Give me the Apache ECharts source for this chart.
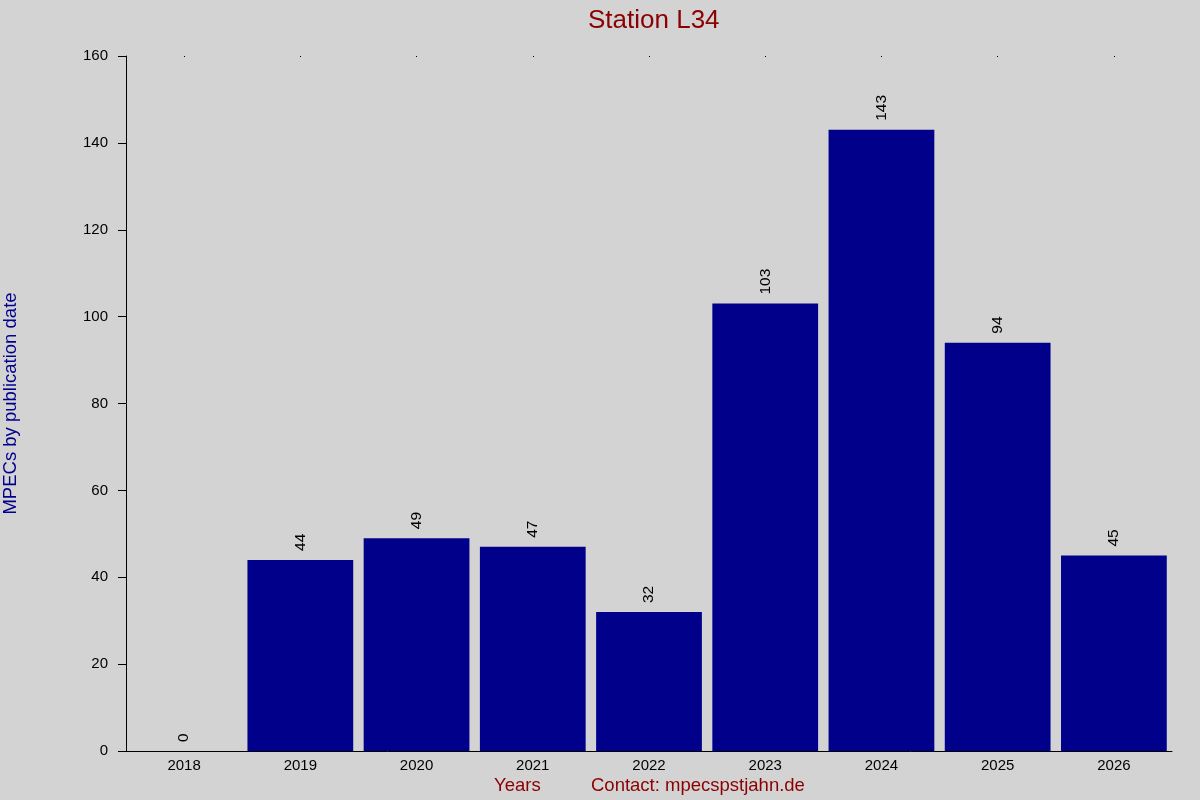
<!DOCTYPE html>
<html><head><meta charset="utf-8">
<script src="https://cdn.jsdelivr.net/npm/echarts@6/dist/echarts.min.js"></script>
<style>html,body{margin:0;padding:0;background:#d3d3d3}#c{width:1200px;height:800px}</style>
</head><body><div id="c"></div>
<script>
var years = ['2018','2019','2020','2021','2022','2023','2024','2025','2026'];
var counts = [0,44,49,47,32,103,143,94,45];
var yTicks = {min:0, max:160, interval:20};
var chart = echarts.init(document.getElementById('c'));
chart.setOption({
  backgroundColor:'#d3d3d3',
  animation:false,
  title:{text:'Station L34', left:583, top:3,
    textStyle:{color:'#8b0000', fontSize:26, fontWeight:'normal', fontFamily:'Liberation Sans, Arial'}},
  grid:{left:126, right:28, top:56, bottom:49, outerBoundsMode:'none', containLabel:false},
  graphic:[
    {type:'text', left:494, top:776, style:{text:'Years', fill:'#8b0000', fontSize:18.5, fontFamily:'Liberation Sans, Arial'}},
    {type:'text', left:591, top:776, style:{text:'Contact: mpecspstjahn.de', fill:'#8b0000', fontSize:18.5, fontFamily:'Liberation Sans, Arial'}}
  ],
  xAxis:[{type:'category', data:years, position:'bottom',
    axisLine:{lineStyle:{color:'#000'}},
    axisTick:{show:false},
    axisLabel:{color:'#000', fontSize:15, margin:7, fontFamily:'Liberation Sans, Arial'}},
   {type:'category', data:years, position:'top',
    axisLine:{show:false},
    axisTick:{show:true, inside:true, length:1, alignWithLabel:true, lineStyle:{color:'#000'}},
    axisLabel:{show:false}}],
  yAxis:{type:'value', min:yTicks.min, max:yTicks.max, interval:yTicks.interval,
    name:'MPECs by publication date', nameLocation:'middle', nameGap:106, nameRotate:90,
    nameTextStyle:{color:'#00008b', fontSize:18.5, fontFamily:'Liberation Sans, Arial'},
    axisLine:{show:true, lineStyle:{color:'#000'}},
    axisTick:{show:true, length:8, lineStyle:{color:'#000'}},
    splitLine:{show:false},
    axisLabel:{color:'#000', fontSize:15, margin:18, fontFamily:'Liberation Sans, Arial'}},
  series:[{type:'bar', data:counts, barCategoryGap:'9%',
    itemStyle:{color:'#00008b'},
    label:{show:true, position:'top', rotate:90, align:'left', verticalAlign:'middle', distance:7,
      offset:[2,0], color:'#000', fontSize:15.5, fontFamily:'Liberation Sans, Arial'}}]
});
</script></body></html>
